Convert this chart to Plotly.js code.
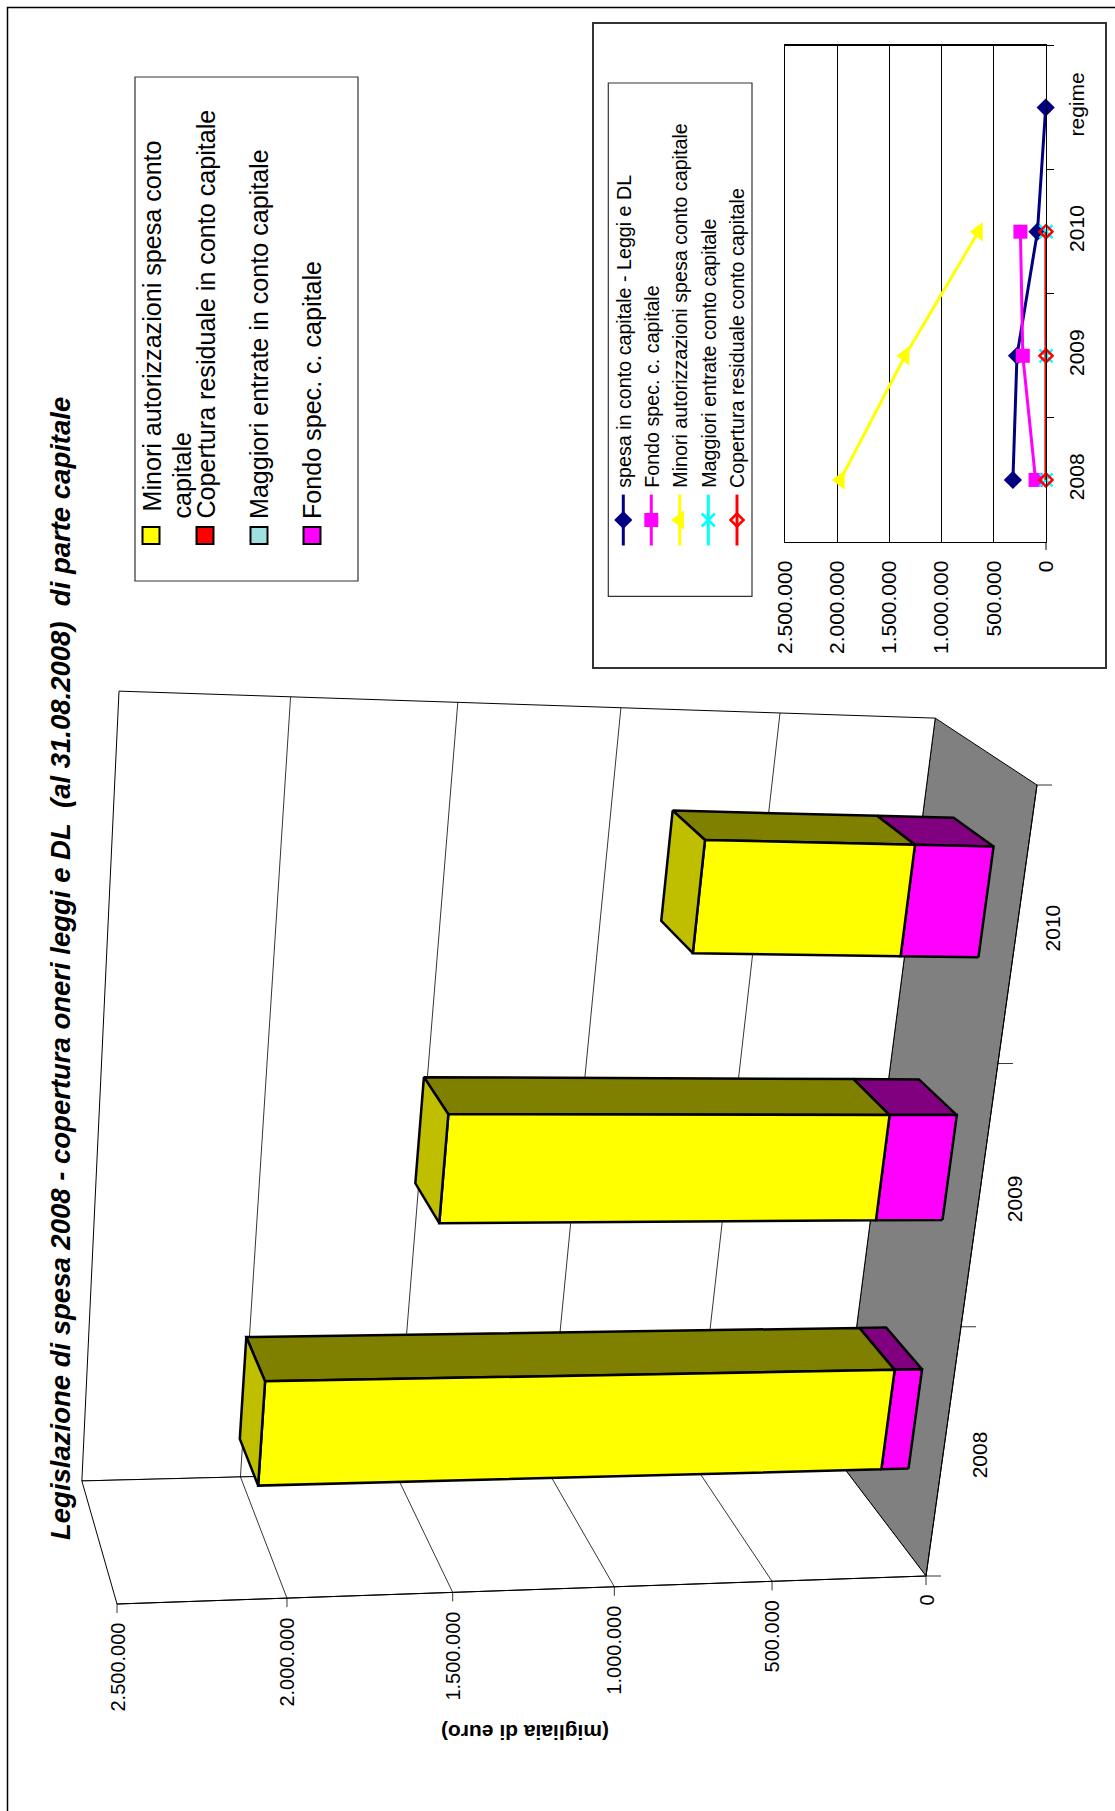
<!DOCTYPE html>
<html><head><meta charset="utf-8">
<script src="https://cdn.plot.ly/plotly-3.0.1.min.js"></script>
<style>html,body{margin:0;padding:0;background:#fff}</style></head>
<body><div id="chart" style="width:1115px;height:1811px"></div>
<script>
// ---- data ----
const barYears = ['2008','2009','2010'];
const fondoBar = [90000,215000,245000];
const minoriBar = [1968000,1357000,640000];
const valueTicks = [0,500000,1000000,1500000,2000000,2500000];
const valueLabels = ['0','500.000','1.000.000','1.500.000','2.000.000','2.500.000'];
const lineCats = ['2008','2009','2010','regime'];
const spesaLine = [317000,278000,82000,3000];
const fondoLine = [100000,222000,245000,null];
const minoriLine = [1970000,1350000,647000,null];
const maggioriLine = [0,0,0,null];
const coperturaLine = [0,0,0,null];
const insetNames = ['spesa in conto capitale - Leggi e DL','Fondo spec. c. capitale','Minori autorizzazioni spesa conto capitale','Maggiori entrate conto capitale','Copertura residuale conto capitale'];
const mainLegend = ['Minori autorizzazioni spesa conto','Copertura residuale in conto capitale','Maggiori entrate in conto capitale','Fondo spec. c. capitale'];
const titleText = 'Legislazione di spesa 2008 - copertura oneri leggi e DL\u00a0\u00a0(al 31.08.2008)\u00a0\u00a0di parte capitale';

// ---- perspective box of the 3D chart, in page pixels ----
const O=[926,1576], X=[1037,785], Y=[117,1604], Z=[839.2,1461.7];
const wx=0.92, wy=0.94, wz=1.071, vMax=2500000;
function P(c,value,d){
  const v=value/vMax, den=1+c*(wx-1)+v*(wy-1)+d*(wz-1);
  return [0,1].map(i=>(O[i]+c*(wx*X[i]-O[i])+v*(wy*Y[i]-O[i])+d*(wz*Z[i]-O[i]))/den);
}
const traces=[], anns=[], shapes=[];
function poly(pts,fill,lw,lc){
  const xs=pts.map(p=>p[0]), ys=pts.map(p=>p[1]);
  if(fill){xs.push(xs[0]);ys.push(ys[0]);}
  traces.push({x:xs,y:ys,mode:'lines',fill:fill?'toself':'none',fillcolor:fill||undefined,
    line:{color:lc||'#000',width:lw},hoverinfo:'skip',showlegend:false,xaxis:'x',yaxis:'y'});
}
function text(t,x,y,size,o){
  anns.push(Object.assign({text:t,x:x,y:y,xref:'x',yref:'y',showarrow:false,textangle:-90,
    font:{family:'Liberation Sans, Arial, sans-serif',size:size,color:'#000'},xanchor:'center',yanchor:'bottom'},o||{}));
}
function box(x0,y0,x1,y1,w,c,f){shapes.push({type:'rect',xref:'x',yref:'y',x0,y0,x1,y1,line:{color:c||'#000',width:w},fillcolor:f||'rgba(0,0,0,0)',layer:'below'});}

// page frame
poly([[7.5,1811],[7.5,7.5],[1115,7.5]],null,1.5);

// walls and floor
poly([P(0,0,0),P(1,0,0),P(1,0,1),P(0,0,1)],'#808080',1);
poly([P(0,0,1),P(1,0,1),P(1,vMax,1),P(0,vMax,1)],'#ffffff',1);
poly([P(0,0,0),P(0,0,1),P(0,vMax,1),P(0,vMax,0)],'#ffffff',1);
poly([P(0,0,0),P(0,vMax,0)],null,1);
poly([P(0,0,0),P(1,0,0)],null,1);
valueTicks.forEach((v,i)=>{
  if(v>0&&v<vMax){
    poly([P(0,v,0),P(0,v,1),P(1,v,1)],null,0.8);
  }
  const p=P(0,v,0);
  poly([p,[p[0],p[1]+9]],null,0.8);
  text(valueLabels[i],p[0],p[1]+17,20,{yanchor:'top'});
});
// category ticks on the front edge of the floor
[0,1,2,3].forEach(i=>{const p=P(i/3,0,0);poly([p,[p[0]+15,p[1]]],null,0.8);});
const catLabelShift=[36,36,35];
barYears.forEach((y,i)=>{
  const p=P((i+.5)/3,0,0);
  text(y,p[0]+catLabelShift[i],p[1]+2,21,{yanchor:'middle'});
});

// bars
const bw=0.0676, d0=0.30, d1=0.70;
[2,1,0].forEach(i=>{
  const c=(i+.5)/3, c1=c-bw, c2=c+bw;
  const stack=[[0,fondoBar[i],'#ff00ff','#800080'],[fondoBar[i],fondoBar[i]+minoriBar[i],'#ffff00','#808000']];
  stack.forEach(s=>{
    poly([P(c2,s[0],d0),P(c2,s[1],d0),P(c2,s[1],d1),P(c2,s[0],d1)],s[3],2.5);
    poly([P(c1,s[0],d0),P(c2,s[0],d0),P(c2,s[1],d0),P(c1,s[1],d0)],s[2],2.5);
  });
  const top=fondoBar[i]+minoriBar[i];
  poly([P(c1,top,d0),P(c2,top,d0),P(c2,top,d1),P(c1,top,d1)],'#bfbf00',2.5);
});

// title and axis title
text('<b><i>'+titleText+'</i></b>',60,969,27.5,{yanchor:'middle'});
text('<b>(migliaia di euro)</b>',525,1733,21,{textangle:180,yanchor:'middle'});

// main legend
box(135,77,358,581,1.2,'#333');
const swatch=['#ffff00','#ff0000','#a0e0e0','#ff00ff'];
const legX=[151,205,259,312];
mainLegend.forEach((t,i)=>{
  box(legX[i]-8.5,527,legX[i]+8.5,544,2,'#000',swatch[i]);
  text(t,legX[i],i==0?514:521,25.1,{yanchor:'bottom'});
});
text('capitale',181,521,25.1,{yanchor:'bottom'});

// inset frame
box(593,23,1106,668,2,'#333');
box(608.3,83,752,596.4,1.2,'#333');
const kinds=[
 {c:'#000080',s:'diamond',sz:14,y:spesaLine,lw:3},
 {c:'#ff00ff',s:'square',sz:14,y:fondoLine,lw:3},
 {c:'#ffff00',s:'triangle-left',sz:17,y:minoriLine,lw:3},
 {c:'#00ffff',s:'x-thin-open',sz:13,y:maggioriLine,lw:3},
 {c:'#ff0000',s:'diamond-open',sz:10,y:coperturaLine,lw:3}];
const lgX=[623.3,651.3,679.7,708.3,737];
kinds.forEach((k,i)=>{
  const m={symbol:k.s,size:k.sz,color:k.c,line:{color:k.c,width:k.s.endsWith('open')?2.5:0}};
  traces.push({x:[lgX[i],lgX[i]],y:[494.6,545.5],mode:'lines',line:{color:k.c,width:k.lw},hoverinfo:'skip',showlegend:false,xaxis:'x',yaxis:'y'});
  traces.push({x:[lgX[i]],y:[520],mode:'markers',marker:m,hoverinfo:'skip',showlegend:false,xaxis:'x',yaxis:'y'});
  text(insetNames[i],lgX[i],490,19.7,{yanchor:'bottom'});
});
// inset chart on its own axes
kinds.forEach((k,i)=>{
  traces.push({x:k.y,y:lineCats,name:insetNames[i],mode:'lines+markers',xaxis:'x2',yaxis:'y2',
    line:{color:k.c,width:k.lw},cliponaxis:false,
    marker:{symbol:k.s,size:k.sz,color:k.c,line:{color:k.c,width:k.s.endsWith('open')?2.5:0}},hoverinfo:'skip',showlegend:false});
});
shapes.push({type:'line',xref:'x',yref:'y',x0:1046,x1:1046,y0:542,y1:550,line:{color:'#000',width:1}});

const W=1115,H=1811;
const tickFont={family:'Liberation Sans, Arial, sans-serif',size:21,color:'#000'};
const layout={width:W,height:H,margin:{l:0,r:0,t:0,b:0},paper_bgcolor:'#fff',plot_bgcolor:'rgba(0,0,0,0)',
  showlegend:false,separators:',.',hovermode:false,shapes:shapes,annotations:anns,
  xaxis:{range:[0,W],domain:[0,1],visible:false,fixedrange:true},
  yaxis:{range:[H,0],domain:[0,1],visible:false,fixedrange:true},
  xaxis2:{domain:[785/W,1046/W],range:[2500000,0],anchor:'y2',tickvals:valueTicks,ticktext:valueLabels,tickangle:-90,
    ticks:'',ticklabelstandoff:9,showgrid:true,gridcolor:'#000',gridwidth:1,zeroline:true,zerolinecolor:'#000',zerolinewidth:1.2,
    showline:true,linecolor:'#000',linewidth:1.2,mirror:true,tickfont:tickFont,fixedrange:true},
  yaxis2:{domain:[1-542/H,1-45.5/H],anchor:'x2',side:'right',type:'category',categoryorder:'array',categoryarray:lineCats,
    range:[-.5,3.5],tickson:'boundaries',ticks:'outside',ticklen:7,tickcolor:'#000',tickangle:-90,ticklabelstandoff:12,
    showgrid:false,showline:true,mirror:true,linecolor:'#000',linewidth:1.2,tickfont:tickFont,fixedrange:true}
};
Plotly.newPlot('chart',traces,layout,{displayModeBar:false,staticPlot:true});
</script></body></html>
